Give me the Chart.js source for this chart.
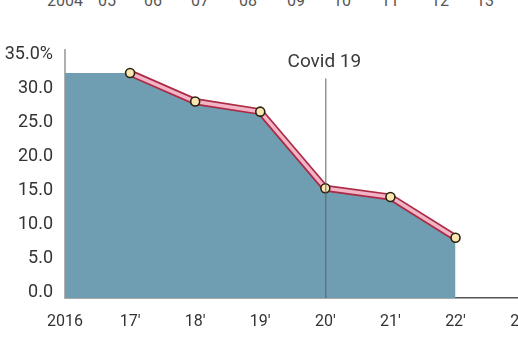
<!DOCTYPE html>
<html>
<head>
<meta charset="utf-8">
<script src="https://cdn.jsdelivr.net/npm/chart.js@4/dist/chart.umd.min.js"></script>
<style>
  html, body { margin: 0; padding: 0; background: #fff; overflow: hidden; width: 518px; height: 338px; }
  #wrap { position: absolute; left: 0; top: 0; width: 545px; height: 338px; }
  #topRow span { position: absolute; top: -9px; font: 16px Roboto, "DejaVu Sans", sans-serif; color: #555; transform: translateX(-50%); }
</style>
</head>
<body>
<div id="topRow"></div>
<div id="wrap"><canvas id="chart"></canvas></div>
<script>
// ticks of the chart above (cut off at the top edge)
var topTicks = ["2004", "05", "06", "07", "08", "09", "10", "11", "12", "13"];
var topTickX = [65, 107, 153, 200, 248, 296, 342, 390, 440, 485];

var years = ["2016", "17'", "18'", "19'", "20'", "21'", "22'", "23'"];
var areaValues = [33.2, 33.2, 29.0, 27.5, 16.2, 14.9, 8.9, null];
var lineValues = [null, 33.2, 29.0, 27.5, 16.2, 14.9, 8.9, null];
var covidYear = "20'";
var covidLabel = "Covid 19";

var FONT = 'Roboto, "DejaVu Sans", sans-serif';

var row = document.getElementById("topRow");
topTicks.forEach(function(t, i) {
    var s = document.createElement("span");
    s.textContent = t;
    s.style.left = topTickX[i] + "px";
    row.appendChild(s);
});

var covidPlugin = {
    id: "covid",
    afterDatasetsDraw: function(chart) {
        var ctx = chart.ctx;
        var x = chart.scales.x.getPixelForValue(years.indexOf(covidYear));
        var yTop = chart.scales.y.getPixelForValue(32.4);
        var yBot = chart.chartArea.bottom;
        ctx.save();
        ctx.strokeStyle = "#5a5f66";
        ctx.lineWidth = 1;
        ctx.beginPath();
        ctx.moveTo(x + 0.5, yTop);
        ctx.lineTo(x + 0.5, yBot);
        ctx.stroke();
        ctx.fillStyle = "#3a3a3a";
        ctx.font = "19px " + FONT;
        ctx.textAlign = "center";
        ctx.textBaseline = "middle";
        ctx.fillText(covidLabel, x - 1, chart.scales.y.getPixelForValue(34.8));
        ctx.restore();
    }
};

new Chart(document.getElementById("chart"), {
    type: "line",
    data: {
        labels: years,
        datasets: [
            { data: lineValues, borderColor: "#f3b4c8", borderWidth: 3.5, pointRadius: 4.5, pointBackgroundColor: "#f9e6b0", pointBorderColor: "#2b2110", pointBorderWidth: 1.6, tension: 0, fill: false, order: 1 },
            { data: lineValues, borderColor: "#ab2c45", borderWidth: 7, pointRadius: 0, tension: 0, fill: false, order: 2 },
            { data: areaValues, borderWidth: 0, borderColor: "rgba(0,0,0,0)", backgroundColor: "#6f9eb3", pointRadius: 0, tension: 0, fill: "origin", order: 3 }
        ]
    },
    options: {
        responsive: true,
        maintainAspectRatio: false,
        animation: false,
        layout: { padding: { top: 50, left: 0, right: 8, bottom: 0 } },
        plugins: { legend: { display: false }, tooltip: { enabled: false } },
        scales: {
            x: {
                offset: false,
                grid: { display: false, drawTicks: false },
                border: { display: true, color: "#555", width: 1.5 },
                ticks: { color: "#333", font: { family: FONT, size: 16 }, padding: 14, maxRotation: 0, autoSkip: false },
                afterFit: function(s) { s.height = 40; }
            },
            y: {
                min: 0,
                max: 36.6,
                grid: { display: false, drawTicks: false },
                border: { display: true, color: "#b0b0b0", width: 2 },
                afterBuildTicks: function(s) { s.ticks = s.ticks.filter(function(t) { return t.value % 5 === 0; }); },
                ticks: {
                    stepSize: 5,
                    includeBounds: false,
                    color: "#333",
                    padding: 12,
                    labelOffset: -6,
                    font: { family: FONT, size: 18 },
                    callback: function(v) { return v === 35 ? "35.0%" : v.toFixed(1); }
                },
                afterFit: function(s) { s.width = 65; }
            }
        }
    },
    plugins: [covidPlugin]
});
</script>
</body>
</html>
